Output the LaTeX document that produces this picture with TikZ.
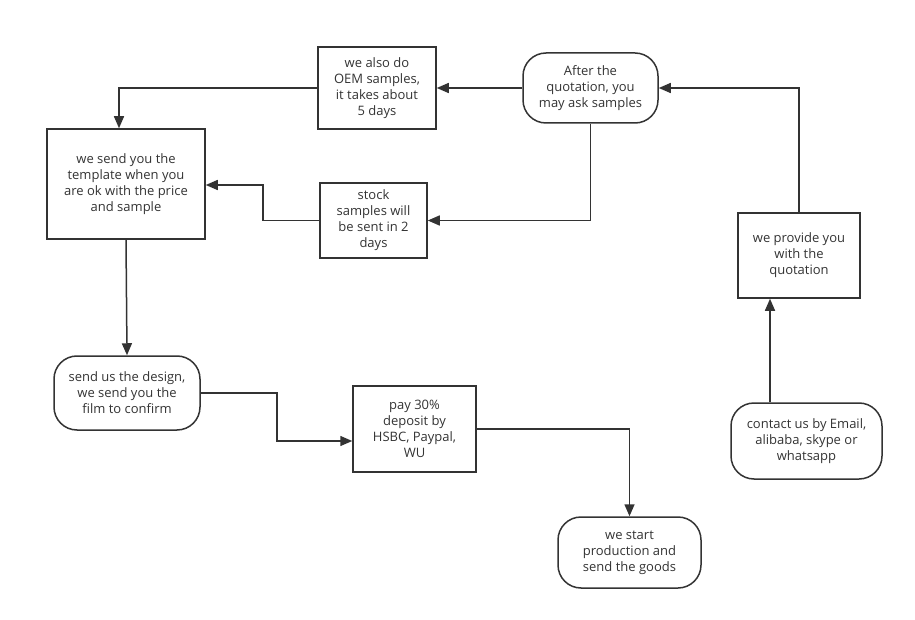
\documentclass[tikz,border=0pt]{standalone}
\usepackage{fontspec}
\setmainfont{Open Sans}
\usepackage{tikz}
\usetikzlibrary{arrows.meta}
\definecolor{ink}{HTML}{333333}

\begin{document}
\begin{tikzpicture}[x=1pt, y=-1pt,
    box/.style={draw=ink, line width=1.5pt, text=ink, inner sep=0pt,
        align=center, font=\fontsize{13}{16}\selectfont},
    roundbox/.style={box, rounded corners=23pt},
    arr/.style={draw=ink, line width=1.5pt,
        -{Triangle[length=12pt, width=10pt]}}]

    \useasboundingbox (0,0) rectangle (915,620);

    % Top row
    \node[box, minimum width=118pt, minimum height=82pt] (oem) at (377,88)
        {we also do\\OEM samples,\\it takes about\\5 days};

    \node[roundbox, minimum width=135pt, minimum height=70pt] (after) at (590.5,88)
        {After the\\quotation, you\\may ask samples};

    % Sample boxes
    \node[box, minimum width=158pt, minimum height=110pt] (tmpl) at (126,184)
        {we send you the\\template when you\\are ok with the price\\and sample};

    \node[box, minimum width=107pt, minimum height=75pt] (stock) at (373.5,220.5)
        {stock\\samples will\\be sent in 2\\days};

    \node[box, minimum width=122pt, minimum height=85pt] (quote) at (799,255.5)
        {we provide you\\with the\\quotation};

    % Bottom row
    \node[roundbox, minimum width=146pt, minimum height=74pt] (design) at (127,393)
        {send us the design,\\we send you the\\film to confirm};

    \node[box, minimum width=123pt, minimum height=86pt] (pay) at (414.5,429)
        {pay 30\%\\deposit by\\HSBC, Paypal,\\WU};

    \node[roundbox, minimum width=151pt, minimum height=76pt] (contact) at (806.5,441)
        {contact us by Email,\\alibaba, skype or\\whatsapp};

    \node[roundbox, minimum width=143pt, minimum height=71pt] (goods) at (629.5,552.5)
        {we start\\production and\\send the goods};

    % Bends
    \coordinate (up) at (770,0);
    \coordinate (back) at (119,0);
    \coordinate (jog) at (263,0);
    \coordinate (step) at (277,0);

    % Connectors
    \draw[arr] (contact.north -| up) -- (quote.south -| up);
    \draw[arr] (quote.north) |- (after.east);
    \draw[arr] (after.west) -- (oem.east);
    \draw[arr] (oem.west) -| (tmpl.north -| back);
    \draw[arr] (after.south) |- (stock.east);
    \draw[arr] (stock.west) -- (stock.west -| jog) -- (jog |- 0,185) -- (tmpl.east |- 0,185);
    \draw[arr] (tmpl.south) -- (design.north);
    \draw[arr] (design.east) -| (step |- 0,441) -- (pay.west |- 0,441);
    \draw[arr] (pay.east) -| (goods.north);

\end{tikzpicture}
\end{document}
